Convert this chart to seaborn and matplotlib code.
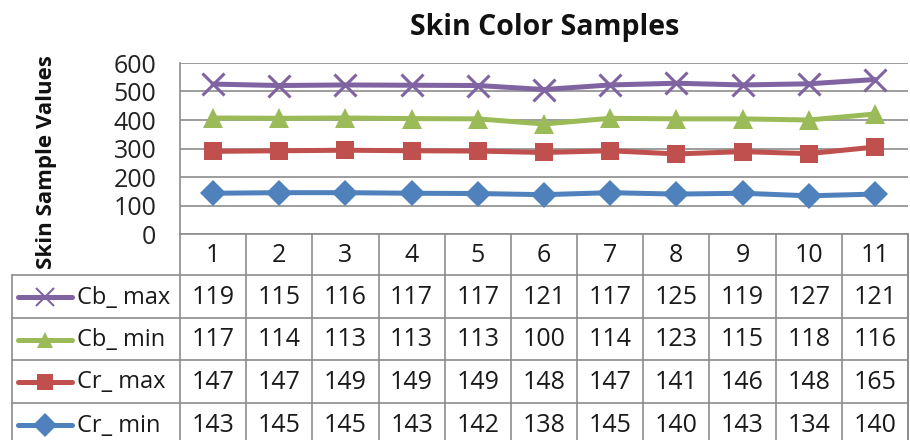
import matplotlib
matplotlib.use("Agg")
import matplotlib.pyplot as plt
import seaborn as sns
import pandas as pd
import numpy as np

samples = list(range(1, 12))
cr_min = [143, 145, 145, 143, 142, 138, 145, 140, 143, 134, 140]
cr_max = [147, 147, 149, 149, 149, 148, 147, 141, 146, 148, 165]
cb_min = [117, 114, 113, 113, 113, 100, 114, 123, 115, 118, 116]
cb_max = [119, 115, 116, 117, 117, 121, 117, 125, 119, 127, 121]

series_names = ["Cr_ min", "Cr_ max", "Cb_ min", "Cb_ max"]
series_vals = [cr_min, cr_max, cb_min, cb_max]
colors = ["#4F81BD", "#C0504D", "#9BBB59", "#8064A2"]
markers = ["D", "s", "^", "x"]
yticks = [0, 100, 200, 300, 400, 500, 600]

# stacked line chart (cumulative)
stacked = np.cumsum(np.array(series_vals), axis=0)

sns.set_theme(style="white")
plt.rcParams["font.family"] = ["Open Sans", "DejaVu Sans"]

W, H = 910, 440
fig = plt.figure(figsize=(9.1, 4.4), dpi=100)
grid_c = "#8C8C8C"
fs = 18

# table axes in pixel coords
tab = fig.add_axes([0, 0, 1, 1])
tab.set_xlim(0, W)
tab.set_ylim(H, 0)
tab.axis("off")

x0, x1 = 180, 908
leg_left = 12
col_w = (x1 - x0) / len(samples)
row_tops = [234, 275, 318, 360, 403, 446]

# plot axes
ax = fig.add_axes([x0 / W, 1 - 234 / H, (x1 - x0) / W, (234 - 63) / H])
for name, vals, c, m in zip(series_names, stacked, colors, markers):
    d = pd.DataFrame({"sample": samples, "value": vals})
    if m == "x":
        sns.lineplot(data=d, x="sample", y="value", color=c, marker="x",
                     markersize=16, markeredgewidth=2.2, markeredgecolor=c,
                     linewidth=3.6, ax=ax)
    else:
        sns.lineplot(data=d, x="sample", y="value", color=c, marker=m,
                     markersize=13 if m != "^" else 15, markeredgewidth=0,
                     linewidth=3.6, ax=ax)
ax.set_xlim(0.5, len(samples) + 0.5)
ax.set_ylim(0, 600)
ax.set_yticks(yticks)
ax.set_yticklabels([str(t) for t in yticks], fontsize=fs, color="#222222")
ax.tick_params(axis="y", length=0, pad=17)
ax.set_xticks([])
ax.set_xlabel("")
ax.set_ylabel("")
ax.grid(axis="y", color=grid_c, linewidth=1.2)
for side in ["top", "right", "bottom"]:
    ax.spines[side].set_visible(False)
ax.spines["left"].set_color(grid_c)
ax.spines["left"].set_linewidth(1.2)
ax.patch.set_alpha(0)

fig.text(545 / W, 1 - 28 / H, "Skin Color Samples", ha="center", va="center",
         fontsize=20.5, fontweight="bold", color="#111111")
fig.text(47 / W, 1 - 162 / H, "Skin Sample Values", ha="center", va="center",
         rotation=90, fontsize=16, fontweight="bold", color="#111111")

# table grid
lw = 1.2
tab.plot([x0, x1], [row_tops[0], row_tops[0]], color=grid_c, lw=lw)
for y in row_tops[1:]:
    tab.plot([leg_left, x1], [y, y], color=grid_c, lw=lw)
for i in range(len(samples) + 1):
    x = x0 + i * col_w
    tab.plot([x, x], [row_tops[0], H], color=grid_c, lw=lw)
tab.plot([leg_left, leg_left], [row_tops[1], H], color=grid_c, lw=lw)
tab.plot([x1, x1], [row_tops[0], H], color=grid_c, lw=lw)

txt_c = "#1A1A1A"
for i, s in enumerate(samples):
    tab.text(x0 + (i + 0.5) * col_w, (row_tops[0] + row_tops[1]) / 2 + 1, str(s),
             ha="center", va="center", fontsize=fs, color=txt_c)

order = [3, 2, 1, 0]
for r, k in enumerate(order):
    yc = (row_tops[r + 1] + row_tops[r + 2]) / 2 + 1
    tab.plot([18, 72], [yc, yc], color=colors[k], lw=3.6, solid_capstyle="round")
    if markers[k] == "x":
        tab.plot(45, yc, marker="x", color=colors[k], markersize=13, mew=1.5)
    else:
        tab.plot(45, yc, marker=markers[k], color=colors[k], markersize=12, mew=0)
    tab.text(77, yc, series_names[k], ha="left", va="center", fontsize=17, color=txt_c)
    for i, v in enumerate(series_vals[k]):
        tab.text(x0 + (i + 0.5) * col_w, yc, str(v), ha="center", va="center",
                 fontsize=fs, color=txt_c)

fig.savefig("out.png", dpi=100, facecolor="white")
